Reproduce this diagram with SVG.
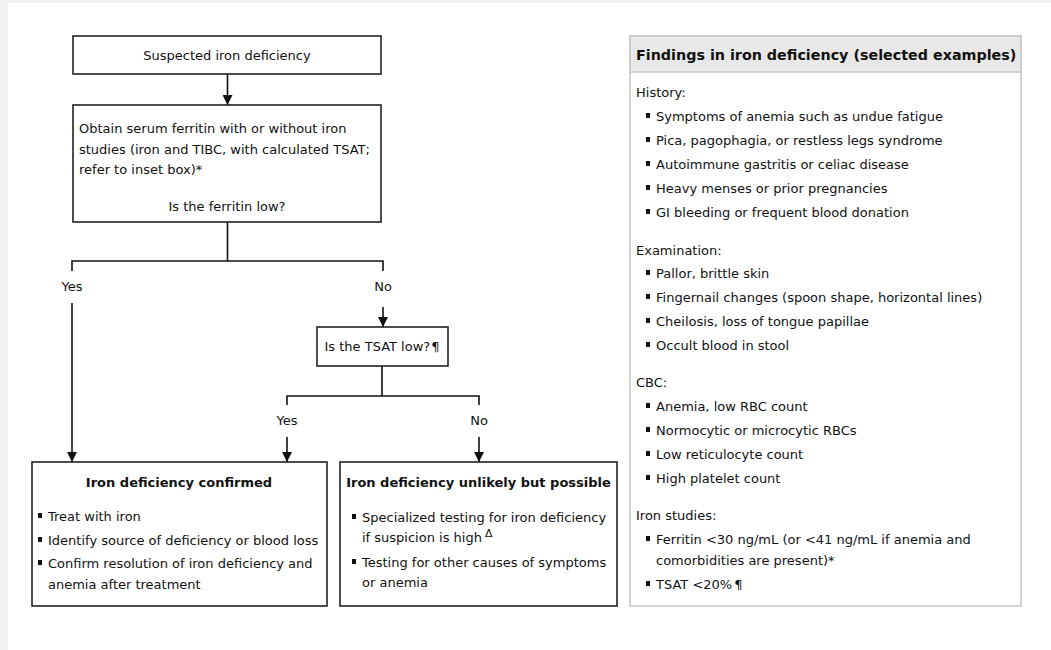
<svg xmlns="http://www.w3.org/2000/svg" width="1051" height="650" viewBox="0 0 1051 650">
<style>
text{font-family:"DejaVu Sans",Verdana,sans-serif;font-size:13px;fill:#111}
.b{font-weight:bold;font-size:13px}
.h{font-weight:bold;font-size:14.3px}
.c{text-anchor:middle}
.box{fill:#fff;stroke:#222;stroke-width:1.6}
.ln{fill:none;stroke:#111;stroke-width:1.6}
.bl{fill:#111}
</style>
<defs>
<marker id="ah" viewBox="0 0 10 10" refX="10" refY="5" markerWidth="10" markerHeight="10" markerUnits="userSpaceOnUse" orient="auto">
<path d="M0,0 L10,5 L0,10 z" fill="#111"/>
</marker>
</defs>
<rect x="0" y="0" width="1051" height="650" fill="#f2f2f2"/>
<rect x="8" y="3" width="1043" height="647" fill="#fff"/>

<g id="connectors">
<line class="ln" x1="227.5" y1="74" x2="227.5" y2="105" marker-end="url(#ah)"/>
<path class="ln" d="M227.5,222 V261 M72,271 V261 H383 V271"/>
<line class="ln" x1="72" y1="303" x2="72" y2="462" marker-end="url(#ah)"/>
<line class="ln" x1="383" y1="307" x2="383" y2="327" marker-end="url(#ah)"/>
<path class="ln" d="M382,366 V396 M287,405 V396 H479 V405"/>
<line class="ln" x1="287" y1="437" x2="287" y2="462" marker-end="url(#ah)"/>
<line class="ln" x1="479" y1="437" x2="479" y2="462" marker-end="url(#ah)"/>
<text class="c" x="72" y="291">Yes</text>
<text class="c" x="383" y="291">No</text>
<text class="c" x="287" y="425">Yes</text>
<text class="c" x="479" y="425">No</text>
</g>

<g id="suspected">
<rect class="box" x="73" y="36" width="308" height="38"/>
<text class="c" x="227" y="59.5">Suspected iron deficiency</text>
</g>

<g id="ferritin">
<rect class="box" x="73" y="105" width="308" height="117"/>
<text x="79" y="133">Obtain serum ferritin with or without iron</text>
<text x="79" y="154">studies (iron and TIBC, with calculated TSAT;</text>
<text x="79" y="174">refer to inset box)*</text>
<text class="c" x="227" y="211">Is the ferritin low?</text>
</g>

<g id="tsat">
<rect class="box" x="317" y="327" width="131" height="39"/>
<text class="c" x="382" y="350.5">Is the TSAT low?<tspan dx="1">¶</tspan></text>
</g>

<g id="confirmed">
<rect class="box" x="32" y="462" width="295" height="144"/>
<text class="b c" x="179" y="487">Iron deficiency confirmed</text>
<rect class="bl" x="38" y="513" width="4" height="5"/>
<text x="48" y="521">Treat with iron</text>
<rect class="bl" x="38" y="537" width="4" height="5"/>
<text x="48" y="545">Identify source of deficiency or blood loss</text>
<rect class="bl" x="38" y="560" width="4" height="5"/>
<text x="48" y="568">Confirm resolution of iron deficiency and</text>
<text x="48" y="589">anemia after treatment</text>
</g>

<g id="unlikely">
<rect class="box" x="340" y="462" width="277" height="144"/>
<text class="b c" x="478.5" y="487">Iron deficiency unlikely but possible</text>
<rect class="bl" x="352" y="514" width="4" height="5"/>
<text x="362" y="522">Specialized testing for iron deficiency</text>
<text x="362" y="542">if suspicion is high<tspan dx="3" dy="-5" font-size="11">Δ</tspan></text>
<rect class="bl" x="352" y="559" width="4" height="5"/>
<text x="362" y="567">Testing for other causes of symptoms</text>
<text x="362" y="587">or anemia</text>
</g>

<g id="findings">
<rect x="630" y="36" width="391" height="570" fill="#fff" stroke="#c8c8c8" stroke-width="1.6"/>
<rect x="630" y="36" width="391" height="36" fill="#e8e8e8" stroke="#c8c8c8" stroke-width="1.6"/>
<text class="h" x="636" y="60">Findings in iron deficiency (selected examples)</text>
<text x="636" y="97">History:</text>
<g>
<rect class="bl" x="646" y="113" width="4" height="5"/><text x="656" y="121">Symptoms of anemia such as undue fatigue</text>
<rect class="bl" x="646" y="137" width="4" height="5"/><text x="656" y="145">Pica, pagophagia, or restless legs syndrome</text>
<rect class="bl" x="646" y="161" width="4" height="5"/><text x="656" y="169">Autoimmune gastritis or celiac disease</text>
<rect class="bl" x="646" y="185" width="4" height="5"/><text x="656" y="193">Heavy menses or prior pregnancies</text>
<rect class="bl" x="646" y="209" width="4" height="5"/><text x="656" y="217">GI bleeding or frequent blood donation</text>
</g>
<text x="636" y="255">Examination:</text>
<g>
<rect class="bl" x="646" y="270" width="4" height="5"/><text x="656" y="278">Pallor, brittle skin</text>
<rect class="bl" x="646" y="294" width="4" height="5"/><text x="656" y="302">Fingernail changes (spoon shape, horizontal lines)</text>
<rect class="bl" x="646" y="318" width="4" height="5"/><text x="656" y="326">Cheilosis, loss of tongue papillae</text>
<rect class="bl" x="646" y="342" width="4" height="5"/><text x="656" y="350">Occult blood in stool</text>
</g>
<text x="636" y="387">CBC:</text>
<g>
<rect class="bl" x="646" y="403" width="4" height="5"/><text x="656" y="411">Anemia, low RBC count</text>
<rect class="bl" x="646" y="427" width="4" height="5"/><text x="656" y="435">Normocytic or microcytic RBCs</text>
<rect class="bl" x="646" y="451" width="4" height="5"/><text x="656" y="459">Low reticulocyte count</text>
<rect class="bl" x="646" y="475" width="4" height="5"/><text x="656" y="483">High platelet count</text>
</g>
<text x="636" y="520">Iron studies:</text>
<g>
<rect class="bl" x="646" y="536" width="4" height="5"/><text x="656" y="544">Ferritin &lt;30 ng/mL (or &lt;41 ng/mL if anemia and</text>
<text x="656" y="565">comorbidities are present)*</text>
<rect class="bl" x="646" y="581" width="4" height="5"/><text x="656" y="589">TSAT &lt;20%<tspan dx="2">¶</tspan></text>
</g>
</g>
</svg>
